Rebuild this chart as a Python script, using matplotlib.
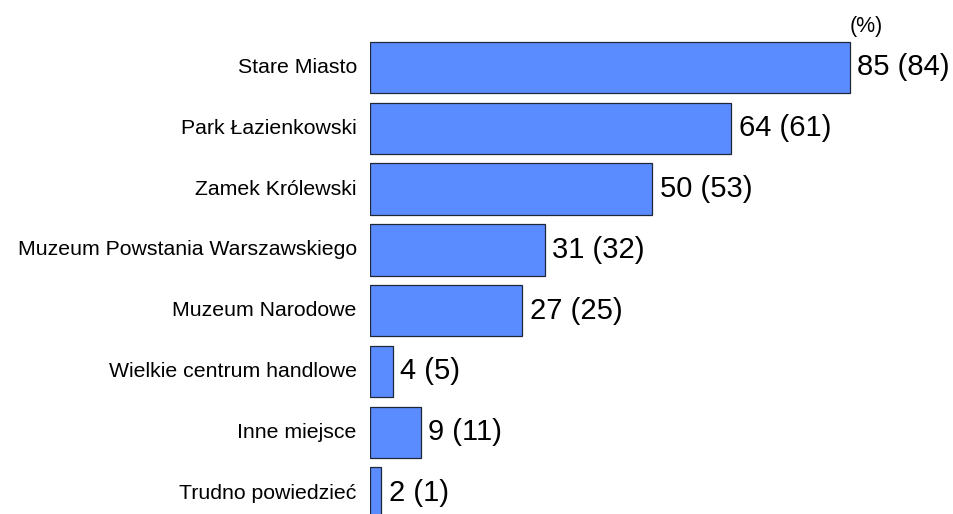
import matplotlib
matplotlib.use("Agg")
import matplotlib.pyplot as plt

plt.rcParams['font.family'] = ['Liberation Sans', 'DejaVu Sans']

# data
places = ['Stare Miasto', 'Park Łazienkowski', 'Zamek Królewski',
          'Muzeum Powstania Warszawskiego', 'Muzeum Narodowe',
          'Wielkie centrum handlowe', 'Inne miejsce', 'Trudno powiedzieć']
now = [85, 64, 50, 31, 27, 4, 9, 2]
before = [84, 61, 53, 32, 25, 5, 11, 1]

fig = plt.figure(figsize=(9.54, 5.14), dpi=100)
ax = fig.add_axes([370 / 954, 0, 584 / 954, 1])

y = list(range(len(places)))
ax.barh(y, now, height=0.847, color='#5b8cff', edgecolor='#1e2638', linewidth=0.9)

for i in y:
    ax.annotate(places[i], (0, i), xytext=(-9.5, 0), textcoords='offset points',
                ha='right', va='center', fontsize=15.3, annotation_clip=False)
    ax.annotate(f'{now[i]} ({before[i]})', (now[i], i), xytext=(5.2, 0),
                textcoords='offset points', ha='left', va='center',
                fontsize=21, annotation_clip=False)

ax.text(87.8, -0.68, '(%)', ha='center', va='center', fontsize=15.5)

ax.set_xlim(0, 584 / 5.647)
ax.set_ylim(7.344, -1.110)
ax.axis('off')

fig.savefig('out.png', dpi=100)
